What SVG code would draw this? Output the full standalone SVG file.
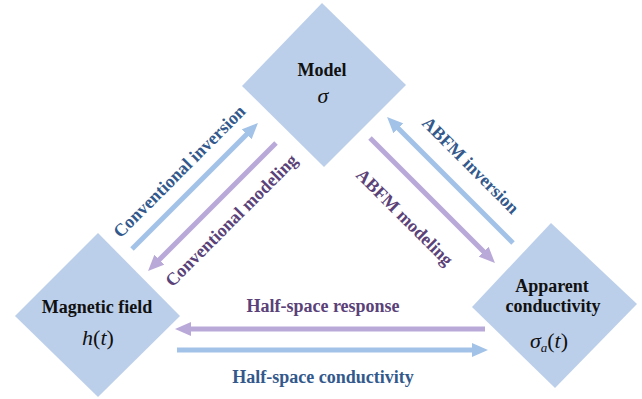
<svg xmlns="http://www.w3.org/2000/svg" width="642" height="399" viewBox="0 0 642 399">
<style>
.node{fill:#bccfea}
.lbl{font-family:"Liberation Serif","Times New Roman",serif;font-weight:bold;font-size:18px;fill:#111;text-anchor:middle}
.math{font-family:"Liberation Serif","Times New Roman",serif;font-size:22px;fill:#111;text-anchor:middle}
.it{font-style:italic}
.bl{stroke:#a3c2e8;stroke-width:5;fill:none}
.pu{stroke:#b9a9d9;stroke-width:5;fill:none}
.tb{font-family:"Liberation Serif","Times New Roman",serif;font-weight:bold;font-size:18px;fill:#33598c;text-anchor:middle}
.tp{font-family:"Liberation Serif","Times New Roman",serif;font-weight:bold;font-size:18px;fill:#5a4279;text-anchor:middle}
</style>
<defs>
<marker id="ab" markerUnits="userSpaceOnUse" viewBox="0 0 16 14" refX="8" refY="7" markerWidth="16" markerHeight="14" orient="auto"><path d="M0,0 L16,7 L0,14 z" fill="#a3c2e8"/></marker>
<marker id="ap" markerUnits="userSpaceOnUse" viewBox="0 0 16 14" refX="8" refY="7" markerWidth="16" markerHeight="14" orient="auto"><path d="M0,0 L16,7 L0,14 z" fill="#b9a9d9"/></marker>
</defs>
<rect width="642" height="399" fill="#fff"/>
<g id="model">
<polygon class="node" points="322,3 406,85 324,167 242,86"/>
<text class="lbl" x="322" y="76">Model</text>
<text class="math it" x="323" y="103">σ</text>
</g>
<g id="magnetic-field">
<polygon class="node" points="98,233 180,316 98,397 15,316"/>
<text class="lbl" x="97" y="313">Magnetic field</text>
<text class="math" x="98" y="345"><tspan class="it">h</tspan>(<tspan class="it">t</tspan>)</text>
</g>
<g id="apparent-conductivity">
<polygon class="node" points="551,223 637,304 555,388 472,307"/>
<text class="lbl" x="552" y="292">Apparent</text>
<text class="lbl" x="553" y="312">conductivity</text>
<text class="math" x="549" y="348"><tspan class="it">σ</tspan><tspan class="it" font-size="13" dy="4">a</tspan><tspan dy="-4">(</tspan><tspan class="it">t</tspan>)</text>
</g>
<g id="connectors">
<line class="bl" x1="132" y1="249" x2="252.3" y2="128.7" marker-end="url(#ab)"/>
<line class="pu" x1="276" y1="143" x2="153.7" y2="265.3" marker-end="url(#ap)"/>
<line class="bl" x1="513" y1="243" x2="392.7" y2="122.7" marker-end="url(#ab)"/>
<line class="pu" x1="370" y1="138" x2="489.3" y2="257.3" marker-end="url(#ap)"/>
<line class="pu" x1="485" y1="329" x2="183" y2="329" marker-end="url(#ap)"/>
<line class="bl" x1="177" y1="350" x2="480" y2="350" marker-end="url(#ab)"/>
<text class="tb" transform="translate(180,172) rotate(-45)" y="5">Conventional inversion</text>
<text class="tp" transform="translate(232,221) rotate(-45)" y="5">Conventional modeling</text>
<text class="tb" transform="translate(470,166) rotate(45)" y="5">ABFM inversion</text>
<text class="tp" transform="translate(404,218) rotate(45)" y="5">ABFM modeling</text>
<text class="tp" x="323" y="312">Half-space response</text>
<text class="tb" x="323" y="383">Half-space conductivity</text>
</g>
</svg>
